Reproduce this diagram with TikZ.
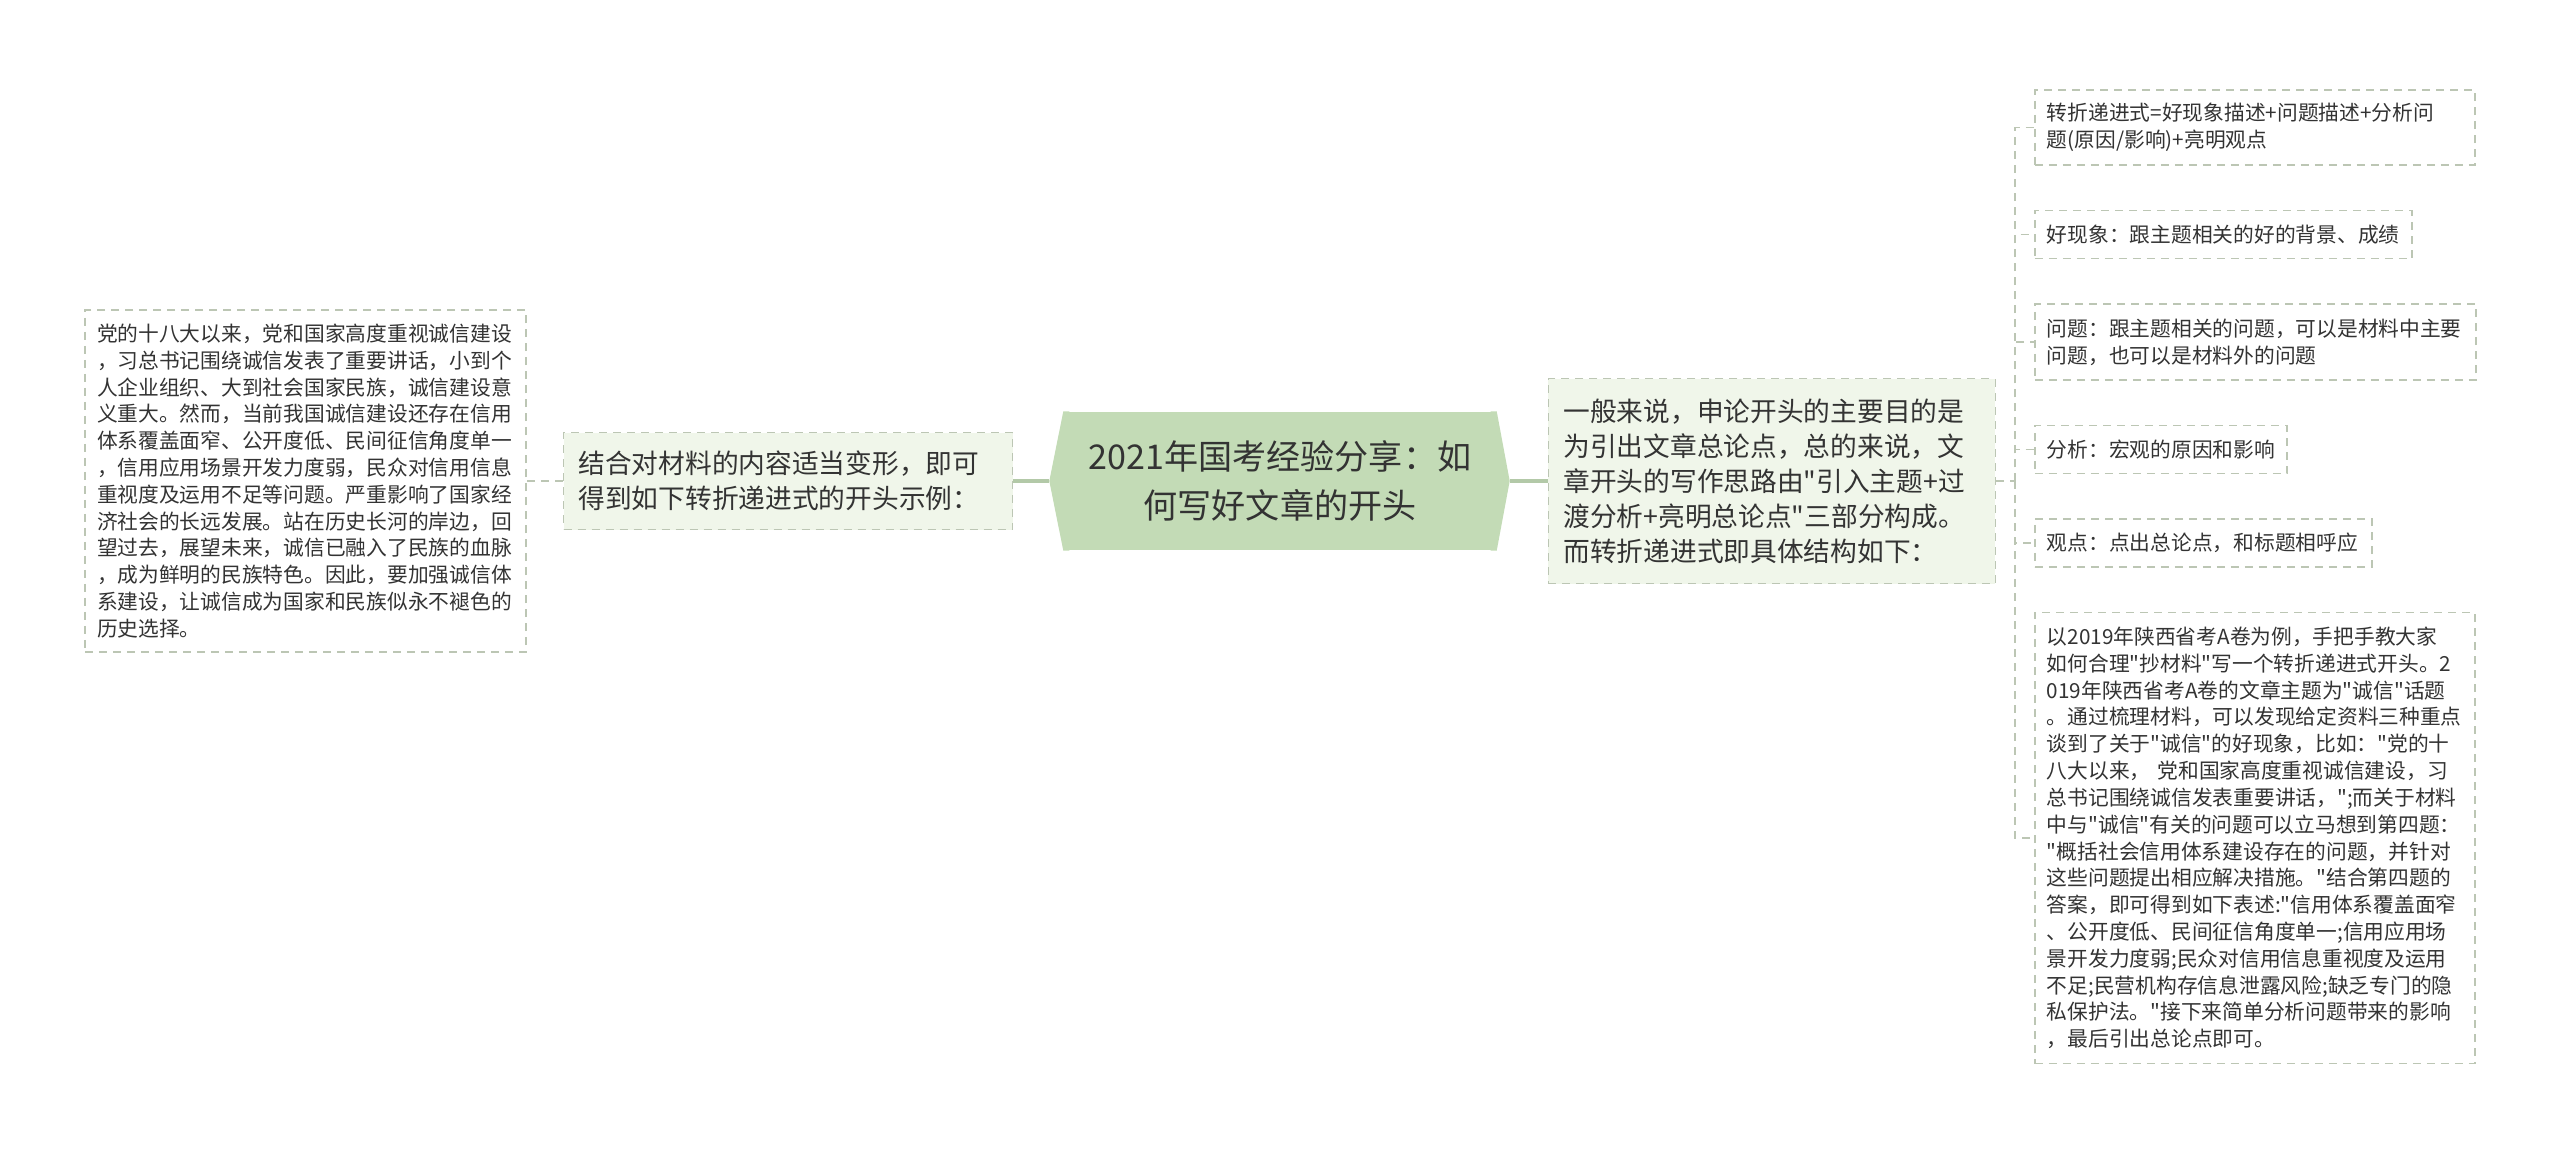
\documentclass[tikz,border=0pt]{standalone}
\usepackage{fontspec}
\newfontfamily\cjk{Noto Sans CJK SC}
\usepackage{xcolor}
\usepackage{tikz}
\usetikzlibrary{positioning}

\definecolor{rootfill}{HTML}{C3DBB6}
\definecolor{midfill}{HTML}{F0F6EA}
\definecolor{boxline}{HTML}{BCC6B4}
\definecolor{stemline}{HTML}{B3C9A8}
\definecolor{ink}{HTML}{333333}

\begin{document}
\begin{tikzpicture}[
        root/.style={rectangle, fill=rootfill, text=ink, align=center, inner sep=0pt, minimum width=43.2mm, minimum height=13.8mm, font=\cjk\fontsize{9.7}{13.7}\selectfont},
        midbox/.style={rectangle, draw=boxline, dash pattern=on 0.8mm off 0.6mm, line width=0.15mm, fill=midfill, align=left, inner xsep=1.5mm, text=ink, font=\cjk\fontsize{7.6}{9.95}\selectfont},
        leaf/.style={rectangle, draw=boxline, dash pattern=on 0.8mm off 0.6mm, line width=0.15mm, fill=white, align=left, inner xsep=1.2mm, text=ink, font=\cjk\fontsize{5.9}{7.63}\selectfont},
        stem/.style={draw=stemline, line width=0.35mm},
        twig/.style={draw=boxline, dash pattern=on 0.8mm off 0.6mm, line width=0.15mm}]

        \useasboundingbox (0,0) rectangle (25.6,-11.49);

        % Root
        \node[root] (root) at (12.8,-4.81) {2021年国考经验分享：如\\何写好文章的开头};
        \coordinate (rootW) at ([xshift=-1.4mm]root.west);
        \coordinate (rootE) at ([xshift=1.3mm]root.east);
        \fill[rootfill] ([xshift=0.6mm]root.north west) -- (root.north west) -- (rootW) -- (root.south west) -- ([xshift=0.6mm]root.south west) -- cycle;
        \fill[rootfill] ([xshift=-0.6mm]root.north east) -- (root.north east) -- (rootE) -- (root.south east) -- ([xshift=-0.6mm]root.south east) -- cycle;

        % Main branches
        \node[midbox, text width=41.9mm, minimum height=9.7mm, left=3.6mm of rootW] (mid_l) {结合对材料的内容适当变形，即可\\得到如下转折递进式的开头示例：};
        \node[midbox, text width=41.7mm, minimum height=20.5mm, right=3.8mm of rootE] (mid_r) {一般来说，申论开头的主要目的是\\为引出文章总论点，总的来说，文\\章开头的写作思路由"引入主题+过\\渡分析+亮明总论点"三部分构成。\\而转折递进式即具体结构如下：};

        % Left leaf
        \node[leaf, text width=41.7mm, minimum height=34.2mm, left=3.6mm of mid_l] (lf_a) {党的十八大以来，党和国家高度重视诚信建设\\，习总书记围绕诚信发表了重要讲话，小到个\\人企业组织、大到社会国家民族，诚信建设意\\义重大。然而，当前我国诚信建设还存在信用\\体系覆盖面窄、公开度低、民间征信角度单一\\，信用应用场景开发力度弱，民众对信用信息\\重视度及运用不足等问题。严重影响了国家经\\济社会的长远发展。站在历史长河的岸边，回\\望过去，展望未来，诚信已融入了民族的血脉\\，成为鲜明的民族特色。因此，要加强诚信体\\系建设，让诚信成为国家和民族似永不褪色的\\历史选择。};

        % Right leaves
        \node[leaf, text width=41.6mm, minimum height=7.5mm, above right=21.2mm and 3.8mm of mid_r.north east] (lf_1) {转折递进式=好现象描述+问题描述+分析问\\题(原因/影响)+亮明观点};
        \node[leaf, text width=35.3mm, minimum height=4.8mm, below right=4.4mm and 0mm of lf_1.south west] (lf_2) {好现象：跟主题相关的好的背景、成绩};
        \node[leaf, text width=41.7mm, minimum height=7.6mm, below right=4.4mm and 0mm of lf_2.south west] (lf_3) {问题：跟主题相关的问题，可以是材料中主要\\问题，也可以是材料外的问题};
        \node[leaf, text width=22.8mm, minimum height=4.8mm, below right=4.4mm and 0mm of lf_3.south west] (lf_4) {分析：宏观的原因和影响};
        \node[leaf, text width=31.3mm, minimum height=4.8mm, below right=4.4mm and 0mm of lf_4.south west] (lf_5) {观点：点出总论点，和标题相呼应};
        \node[leaf, text width=41.6mm, minimum height=45.1mm, below right=4.4mm and 0mm of lf_5.south west] (lf_6) {以2019年陕西省考A卷为例，手把手教大家\\如何合理"抄材料"写一个转折递进式开头。2\\019年陕西省考A卷的文章主题为"诚信"话题\\。通过梳理材料，可以发现给定资料三种重点\\谈到了关于"诚信"的好现象，比如："党的十\\八大以来，\ 党和国家高度重视诚信建设，习\\总书记围绕诚信发表重要讲话，";而关于材料\\中与"诚信"有关的问题可以立马想到第四题：\\"概括社会信用体系建设存在的问题，并针对\\这些问题提出相应解决措施。"结合第四题的\\答案，即可得到如下表述:"信用体系覆盖面窄\\、公开度低、民间征信角度单一;信用应用场\\景开发力度弱;民众对信用信息重视度及运用\\不足;民营机构存信息泄露风险;缺乏专门的隐\\私保护法。"接下来简单分析问题带来的影响\\，最后引出总论点即可。};

        % Connectors
        \draw[stem] (rootW) -- (mid_l.east);
        \draw[stem] (rootE) -- (mid_r.west);
        \draw[twig] (mid_l.west) -- (lf_a.east);
        \draw[twig] (mid_r.east) -- ++(1.9mm,0) coordinate (fork);
        \draw[twig] (fork) |- (lf_1.west);
        \draw[twig] (fork) |- (lf_2.west);
        \draw[twig] (fork) |- (lf_3.west);
        \draw[twig] (fork) |- (lf_4.west);
        \draw[twig] (fork) |- (lf_5.west);
        \draw[twig] (fork) |- (lf_6.west);

\end{tikzpicture}
\end{document}
